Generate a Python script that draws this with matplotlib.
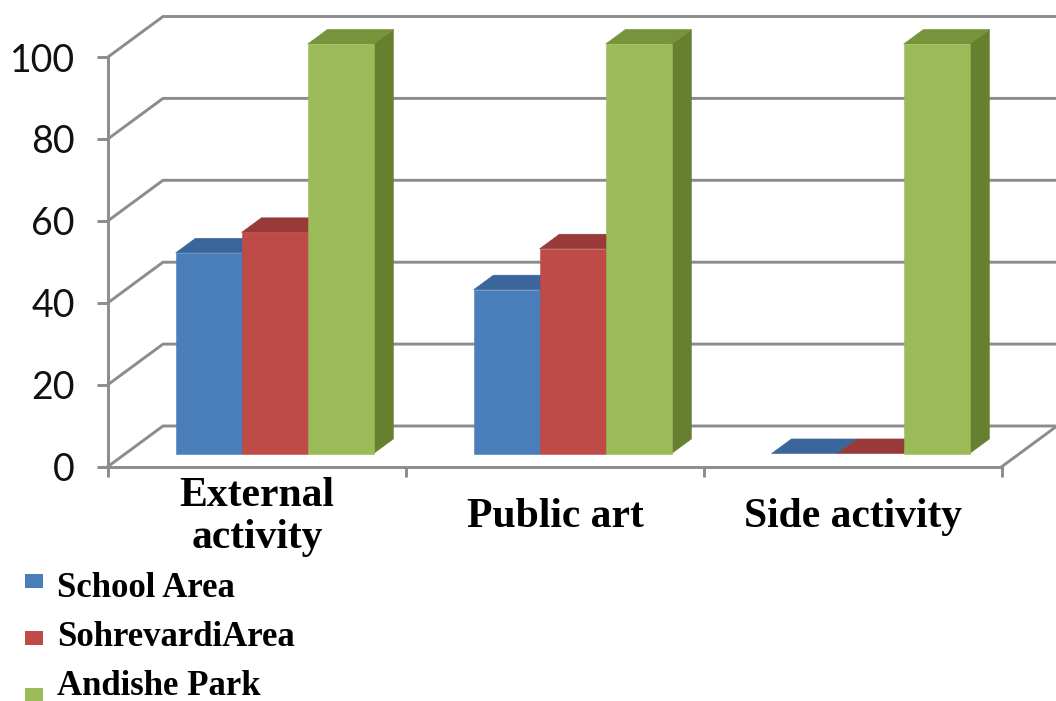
import matplotlib
matplotlib.use("Agg")
import matplotlib.pyplot as plt
from matplotlib.patches import Polygon, Rectangle
from matplotlib.transforms import offset_copy

# ---- data -------------------------------------------------------------
categories = ["External\nactivity", "Public art", "Side activity"]
series_names = ["School Area", "SohrevardiArea", "Andishe Park"]
school_area = [49, 40, 0]
sohrevardi_area = [54, 50, 0]
andishe_park = [100, 100, 100]
y_ticks = [0, 20, 40, 60, 80, 100]

series_values = [school_area, sohrevardi_area, andishe_park]

# ---- style ------------------------------------------------------------
# (front, top, side) shade for each series
face_colors = [
    ("#4A7EBB", "#3B669C", "#335A8A"),
    ("#BE4B48", "#983A37", "#8A3432"),
    ("#9BBB59", "#77933C", "#66802F"),
]
GRID = "#8C8C8C"
LW = 2.1

W, H, DPI = 1056, 701, 100
PX_X = 298.0          # pixels per category slot
PX_Y = 4.095          # pixels per value unit
X0, Y0 = 108.0, 466.5  # origin of the front axes, pixels from top-left
DEPTH_X = 55 / PX_X    # oblique depth of the chart box, in data units
DEPTH_Y = 40.5 / PX_Y
Y_TOP = 113
BAR_W = 66 / PX_X
FRONT, BACK = 0.32, 0.68   # depth fraction occupied by the bars

serif = "Liberation Serif"

fig = plt.figure(figsize=(W / DPI, H / DPI), dpi=DPI)
fig.patch.set_facecolor("white")
ax = fig.add_axes([X0 / W, (H - Y0) / H, (3 + DEPTH_X) * PX_X / W, Y_TOP * PX_Y / H])
ax.set_xlim(0, 3 + DEPTH_X)
ax.set_ylim(0, Y_TOP)
ax.patch.set_visible(False)

for s in ("top", "right"):
    ax.spines[s].set_visible(False)
for s in ("left", "bottom"):
    ax.spines[s].set_color(GRID)
    ax.spines[s].set_linewidth(LW)
    ax.spines[s].set_zorder(2)
ax.spines["left"].set_bounds(0, 100)
ax.spines["bottom"].set_bounds(0, 3)

# back wall / side wall gridlines
for v in y_ticks:
    ax.plot([0, DEPTH_X, 3 + DEPTH_X], [v, v + DEPTH_Y, v + DEPTH_Y],
            color=GRID, lw=LW, zorder=1, clip_on=False, solid_joinstyle="miter")
# right edge of the floor
ax.plot([3, 3 + DEPTH_X], [0, DEPTH_Y], color=GRID, lw=LW, zorder=1, clip_on=False)

# ---- 3-D style bars ---------------------------------------------------
n = len(series_values)
margin = (1 - n * BAR_W) / 2
ddx = (BACK - FRONT) * DEPTH_X
ddy = (BACK - FRONT) * DEPTH_Y
z = 3
for i in range(len(categories)):
    for k, vals in enumerate(series_values):
        v = vals[i]
        front_c, top_c, side_c = face_colors[k]
        xl = i + margin + k * BAR_W + FRONT * DEPTH_X
        xr = xl + BAR_W
        yb = FRONT * DEPTH_Y
        yt = yb + v
        side = Polygon([(xr, yb), (xr + ddx, yb + ddy), (xr + ddx, yt + ddy), (xr, yt)],
                       closed=True, facecolor=side_c, edgecolor=side_c, lw=0.4,
                       zorder=z, clip_on=False)
        top = Polygon([(xl, yt), (xr, yt), (xr + ddx, yt + ddy), (xl + ddx, yt + ddy)],
                      closed=True, facecolor=top_c, edgecolor=top_c, lw=0.4,
                      zorder=z, clip_on=False)
        ax.add_patch(side)
        ax.add_patch(top)
        if v > 0:
            front = Rectangle((xl, yb), BAR_W, v, facecolor=front_c, edgecolor=front_c,
                              lw=0.4, zorder=z, clip_on=False)
            ax.add_patch(front)
        z += 1

# ---- axes ticks and labels -------------------------------------------
ax.set_yticks(y_ticks)
ax.tick_params(axis="y", length=8, width=LW, color=GRID, pad=16, labelsize=27,
               labelcolor="#111111")
for lbl in ax.get_yticklabels():
    lbl.set_fontfamily("Lato")

ax.set_xticks([0, 1, 2, 3])
ax.set_xticklabels([])
ax.tick_params(axis="x", length=7.5, width=LW, color=GRID)

label_tr = offset_copy(ax.get_xaxis_transform(), fig=fig, y=-(517 - Y0), units="dots")
for i, cat in enumerate(categories):
    ax.text(i + 0.5, 0, cat, transform=label_tr, ha="center", va="center",
            fontfamily=serif, fontweight="bold", fontsize=30, linespacing=1.12,
            color="black")

# ---- legend ----------------------------------------------------------
for k, name in enumerate(series_names):
    sq_top = 574 + 57 * k
    fig.add_artist(Rectangle((25 / W, 1 - (sq_top + 14) / H), 18 / W, 14 / H,
                             transform=fig.transFigure, facecolor=face_colors[k][0],
                             edgecolor="none"))
    fig.text(57 / W, 1 - (597 + 49 * k) / H, name, ha="left", va="baseline",
             fontfamily=serif, fontweight="bold", fontsize=25, color="black")

fig.savefig("out.png", dpi=DPI)
